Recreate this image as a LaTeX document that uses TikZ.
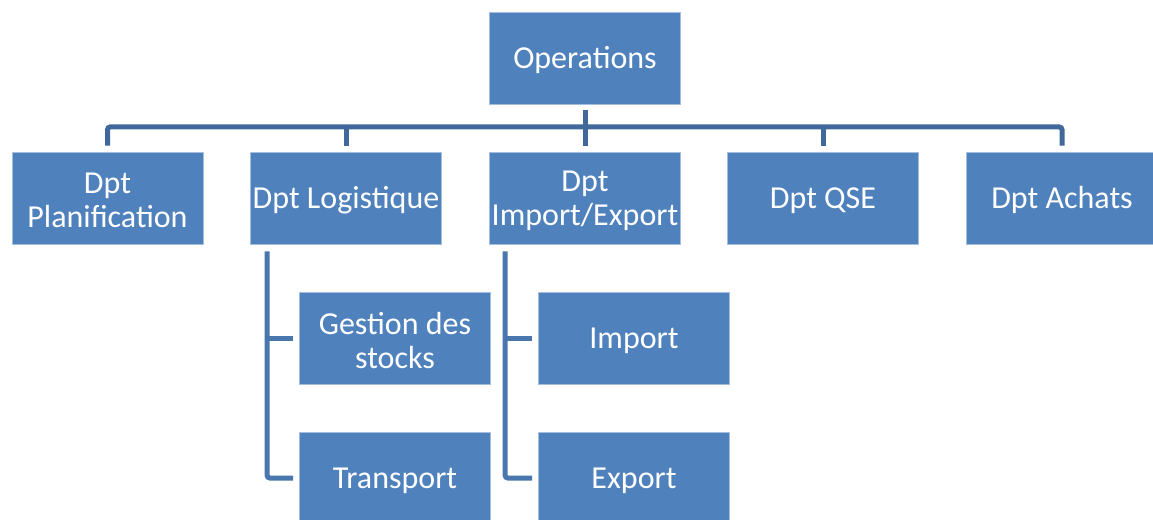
\documentclass[tikz,border=0pt]{standalone}
\usepackage{fontspec}
\setmainfont{Carlito}
\definecolor{boxfill}{RGB}{79,129,189}
\definecolor{boxedge}{RGB}{164,190,224}
\definecolor{busline}{RGB}{65,104,154}
\definecolor{subline}{RGB}{74,118,174}
\begin{document}
\begin{tikzpicture}[x=0.75pt,y=-0.75pt,
  unit/.style={rectangle, fill=boxfill, draw=boxedge, line width=0.6pt,
    minimum width=143.25pt, minimum height=69pt, inner sep=0pt,
    label={[utext]center:{#1}}},
  utext/.style={text=white, align=center, inner sep=0pt, yshift=-1.8pt,
    font=\fontsize{24pt}{25.5pt}\selectfont},
  bus/.style={draw=busline, line width=3.75pt, rounded corners=2pt},
  sub/.style={draw=subline, line width=3.75pt, rounded corners=2pt}]
\useasboundingbox (0,0) rectangle (1153,520);

% top of the chart
\node[unit=Operations] (ops) at (585,58) {};

% departments
\node[unit={Dpt\\Planification}] (plan)   at (107.5,198) {};
\node[unit={Dpt Logistique}]     (log)    at (346,198)   {};
\node[unit={Dpt\\Import/Export}] (impexp) at (585,198)   {};
\node[unit={Dpt QSE}]            (qse)    at (823,198)   {};
\node[unit={Dpt Achats}]         (achats) at (1062,198)  {};

% services
\node[unit={Gestion des\\stocks}] (stock) at (395,338) {};
\node[unit=Transport]             (trans) at (395,478) {};
\node[unit=Import]                (imp)   at (634,338) {};
\node[unit=Export]                (exp)   at (634,478) {};

% horizontal bus between the head and the departments
\coordinate (busy) at (585,127);
\draw[bus] ([yshift=4.5pt]plan.north) -- (plan.north |- busy)
  -- (achats.north |- busy) -- ([yshift=4.5pt]achats.north);
\draw[bus] (log.north |- busy) -- ([yshift=4.5pt]log.north);
\draw[bus] (qse.north |- busy) -- ([yshift=4.5pt]qse.north);
\draw[bus] ([yshift=-4.5pt]ops.south) -- ([yshift=4.5pt]impexp.north);

% logistics branch
\coordinate (lt) at ([xshift=12.75pt,yshift=-5.25pt]log.south west);
\draw[sub] (lt) -- (lt |- trans.west) -- ([xshift=-4.5pt]trans.west);
\draw[sub] (lt |- stock.west) -- ([xshift=-4.5pt]stock.west);

% import/export branch
\coordinate (it) at ([xshift=12pt,yshift=-5.25pt]impexp.south west);
\draw[sub] (it) -- (it |- exp.west) -- ([xshift=-4.5pt]exp.west);
\draw[sub] (it |- imp.west) -- ([xshift=-4.5pt]imp.west);
\end{tikzpicture}
\end{document}
